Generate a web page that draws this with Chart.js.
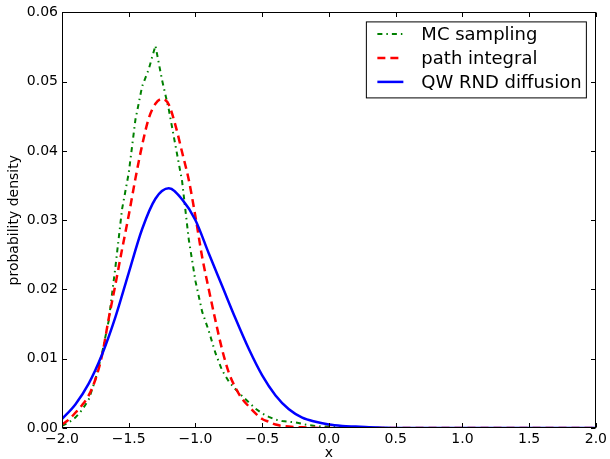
<!DOCTYPE html>
<html lang="en">
<head>
    <meta charset="UTF-8">
    <title>Probability density</title>
    <style>
        body {
            margin: 0;
            padding: 0;
            background-color: white;
        }
    </style>
</head>
<body>
    <canvas id="myChart" width="610" height="459"></canvas>

    <script src="https://cdn.jsdelivr.net/npm/chart.js"></script>
    <script>
        // MC sampling (green, dash-dot)
        const xMC = [-2.0, -1.95, -1.9, -1.85, -1.8, -1.75, -1.7, -1.65, -1.6, -1.55, -1.5, -1.45, -1.4, -1.35, -1.3,
            -1.25, -1.2, -1.15, -1.1, -1.05, -1.0, -0.95, -0.9, -0.85, -0.8, -0.75, -0.7, -0.65, -0.6, -0.55, -0.5,
            -0.45, -0.4, -0.35, -0.3, -0.25, -0.2, -0.15, -0.1, -0.05, 0.0, 0.05, 0.1, 0.15, 0.2, 2.0];
        const yMC = [0.0003, 0.0008, 0.0015, 0.0026, 0.0041, 0.0070, 0.0108, 0.0155, 0.0232, 0.0316, 0.0368, 0.0445, 0.0493, 0.0518, 0.0552,
            0.0502, 0.0460, 0.0408, 0.0356, 0.0272, 0.0212, 0.0168, 0.0140, 0.0108, 0.0083, 0.0067, 0.0056, 0.0046, 0.0037, 0.0028, 0.0021,
            0.0016, 0.0012, 0.0010, 0.0009, 0.0008, 0.0006, 0.0004, 0.0003, 0.0002, 0.0002, 0.0002, 0.0001, 0.0, 0.0, 0.0];

        // path integral (red, dashed)
        const xPath = [-2.0, -1.95, -1.9, -1.85, -1.8, -1.75, -1.7, -1.65, -1.6, -1.55, -1.5, -1.45, -1.4, -1.35, -1.3,
            -1.25, -1.2, -1.15, -1.1, -1.05, -1.0, -0.95, -0.9, -0.85, -0.8, -0.75, -0.7, -0.65, -0.6, -0.55, -0.5,
            -0.45, -0.4, -0.35, -0.3, -0.2, 0.0, 2.0];
        const yPath = [0.0005, 0.0012, 0.0022, 0.0033, 0.0047, 0.0070, 0.0105, 0.0158, 0.0207, 0.0258, 0.0307, 0.0360, 0.0408, 0.0447, 0.0468,
            0.0475, 0.0467, 0.0437, 0.0398, 0.0358, 0.0305, 0.0247, 0.0200, 0.0155, 0.0113, 0.0080, 0.0058, 0.0042, 0.0031, 0.0021, 0.0013,
            0.0009, 0.0005, 0.0003, 0.0002, 0.0001, 0.0, 0.0];

        // QW RND diffusion (blue, solid)
        const xQW = [-2.0, -1.9, -1.8, -1.7, -1.6, -1.5, -1.4, -1.3, -1.2, -1.1, -1.0, -0.9, -0.8, -0.7, -0.6, -0.5,
            -0.4, -0.3, -0.2, -0.1, 0.0, 0.1, 0.2, 0.3, 0.4, 0.5, 2.0];
        const yQW = [0.0013, 0.0034, 0.0064, 0.0106, 0.0160, 0.0224, 0.0287, 0.0331, 0.0346, 0.0330, 0.0300, 0.0252, 0.0205, 0.0158, 0.0114, 0.0076,
            0.0047, 0.0027, 0.0015, 0.0009, 0.0005, 0.0003, 0.0002, 0.0001, 0.00005, 0.0, 0.0];

        const xTicks = [-2.0, -1.5, -1.0, -0.5, 0.0, 0.5, 1.0, 1.5, 2.0];
        const yTicks = [0.00, 0.01, 0.02, 0.03, 0.04, 0.05, 0.06];

        const FONT = 'DejaVu Sans';
        const toPoints = (xs, ys) => xs.map((x, i) => ({ x: x, y: ys[i] }));
        const minus = s => s.replace('-', '\u2212');

        // matplotlib-style frame with inward ticks on all four sides
        const framePlugin = {
            id: 'frame',
            afterDatasetsDraw(chart) {
                const { ctx, chartArea: a, scales } = chart;
                const L = Math.round(a.left) + 0.5, R = Math.round(a.right) - 0.5;
                const T = Math.round(a.top) + 0.5, B = Math.round(a.bottom) - 0.5;
                ctx.save();
                ctx.strokeStyle = '#000';
                ctx.lineWidth = 1;
                ctx.strokeRect(L, T, R - L, B - T);
                const len = 4.5;
                ctx.beginPath();
                xTicks.forEach(v => {
                    const px = Math.round(scales.x.getPixelForValue(v)) + 0.5;
                    ctx.moveTo(px, B); ctx.lineTo(px, B - len);
                    ctx.moveTo(px, T); ctx.lineTo(px, T + len);
                });
                yTicks.forEach(v => {
                    const py = Math.round(scales.y.getPixelForValue(v)) + 0.5;
                    ctx.moveTo(L, py); ctx.lineTo(L + len, py);
                    ctx.moveTo(R, py); ctx.lineTo(R - len, py);
                });
                ctx.stroke();
                ctx.restore();
            }
        };

        // legend box in the upper right corner of the axes
        const legendPlugin = {
            id: 'boxLegend',
            afterDraw(chart) {
                const { ctx, chartArea: a } = chart;
                const box = { x: a.right - 9.5, y: a.top + 9.5, w: 220, h: 76 };
                ctx.save();
                ctx.fillStyle = '#fff';
                ctx.strokeStyle = '#000';
                ctx.lineWidth = 1;
                ctx.fillRect(box.x - box.w, box.y, box.w, box.h);
                ctx.strokeRect(box.x - box.w, box.y, box.w, box.h);
                ctx.font = '18px "' + FONT + '"';
                ctx.textBaseline = 'middle';
                ctx.fillStyle = '#000';
                chart.data.datasets.forEach((ds, i) => {
                    const cy = box.y + 12 + i * 24;
                    const x0 = box.x - box.w + 11;
                    ctx.beginPath();
                    ctx.strokeStyle = ds.borderColor;
                    ctx.lineWidth = ds.borderWidth;
                    ctx.setLineDash(ds.borderDash || []);
                    ctx.moveTo(x0, cy);
                    ctx.lineTo(x0 + 26, cy);
                    ctx.stroke();
                    ctx.setLineDash([]);
                    ctx.fillText(ds.label, x0 + 44, cy + 1);
                });
                ctx.restore();
            }
        };

        const ctx = document.getElementById('myChart').getContext('2d');

        new Chart(ctx, {
            type: 'line',
            data: {
                datasets: [
                    {
                        label: 'MC sampling',
                        data: toPoints(xMC, yMC),
                        borderColor: '#008000',
                        borderWidth: 2,
                        borderDash: [5, 4, 1.5, 4],
                        pointRadius: 0,
                        tension: 0,
                        order: 2
                    },
                    {
                        label: 'path integral',
                        data: toPoints(xPath, yPath),
                        borderColor: '#ff0000',
                        borderWidth: 2.5,
                        borderDash: [8, 5],
                        pointRadius: 0,
                        cubicInterpolationMode: 'monotone',
                        order: 1
                    },
                    {
                        label: 'QW RND diffusion',
                        data: toPoints(xQW, yQW),
                        borderColor: '#0000ff',
                        borderWidth: 2.5,
                        pointRadius: 0,
                        cubicInterpolationMode: 'monotone',
                        order: 0
                    }
                ]
            },
            options: {
                responsive: false,
                animation: false,
                layout: { padding: { top: 12, right: 12 } },
                plugins: {
                    legend: { display: false },
                    tooltip: { enabled: false }
                },
                scales: {
                    x: {
                        type: 'linear',
                        min: -2,
                        max: 2,
                        afterFit: s => { s.height = 31; },
                        afterBuildTicks: s => { s.ticks = xTicks.map(v => ({ value: v })); },
                        grid: { display: false, drawTicks: false },
                        border: { display: false },
                        ticks: {
                            padding: 3,
                            color: '#000',
                            font: { family: FONT, size: 14 },
                            maxRotation: 0,
                            callback: v => minus(v.toFixed(1))
                        },
                        title: {
                            display: true,
                            text: 'x',
                            color: '#000',
                            font: { family: FONT, size: 14 },
                            padding: { top: 0, bottom: -3 }
                        }
                    },
                    y: {
                        min: 0,
                        max: 0.06,
                        afterFit: s => { s.width = 62; },
                        afterBuildTicks: s => { s.ticks = yTicks.map(v => ({ value: v })); },
                        grid: { display: false, drawTicks: false },
                        border: { display: false },
                        ticks: {
                            padding: 4,
                            color: '#000',
                            font: { family: FONT, size: 14 },
                            callback: v => v.toFixed(2)
                        },
                        title: {
                            display: true,
                            text: 'probability density',
                            color: '#000',
                            font: { family: FONT, size: 14 },
                            padding: { top: 6, bottom: 0 }
                        }
                    }
                }
            },
            plugins: [framePlugin, legendPlugin]
        });
    </script>
</body>
</html>
